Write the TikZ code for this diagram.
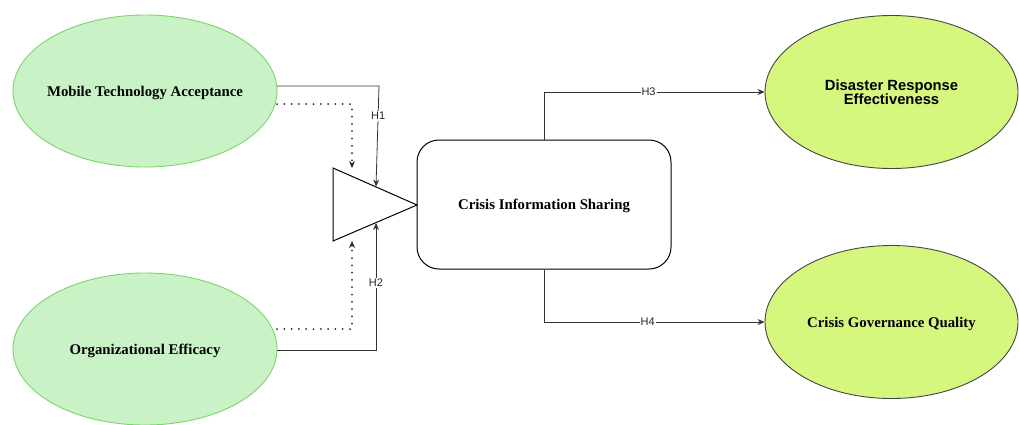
\documentclass[tikz,border=0pt]{standalone}
\usepackage{fontspec}
\setmainfont{Liberation Serif}
\newfontfamily\arialfont{Liberation Sans}
\usetikzlibrary{shapes.geometric,arrows.meta}
\definecolor{leftfill}{HTML}{C9F2C7}
\definecolor{leftline}{HTML}{7ED36A}
\definecolor{rightfill}{HTML}{D6F77D}
\definecolor{rightline}{HTML}{444444}
\tikzset{
  antecedent/.style={ellipse, draw=leftline, fill=leftfill, line width=0.9pt,
    minimum width=264pt, minimum height=152pt, inner xsep=-10pt, inner ysep=0pt,
    text height=10pt, text depth=0pt,
    font=\fontsize{14.8}{15}\selectfont\bfseries},
  outcome/.style={ellipse, draw=rightline, fill=rightfill, line width=0.9pt,
    minimum width=253pt, minimum height=153pt, inner sep=0pt, align=center,
    font=\fontsize{14.8}{14}\selectfont\bfseries},
  hub/.style={rectangle, rounded corners=22pt, draw=black, line width=1pt,
    minimum width=254pt, minimum height=129pt, text height=10pt, text depth=0pt,
    font=\fontsize{14.8}{15}\selectfont\bfseries},
  link/.style={draw=black!80, line width=0.8pt, -{Stealth[length=7pt,width=6pt]}},
  dotlink/.style={draw=black!85, line width=2pt, line cap=round,
    dash pattern=on 0pt off 7.3pt, -{Stealth[length=7pt,width=6pt]}},
  hlabel/.style={fill=white, inner sep=1pt, text=black!85,
    font=\arialfont\fontsize{11}{12}\selectfont},
}
\begin{document}
\begin{tikzpicture}[x=1pt,y=-1pt]
\useasboundingbox (0,0) rectangle (1019,424);

% constructs
\node[antecedent] (mta) at (145,91) {Mobile Technology Acceptance};
\node[antecedent] (oe)  at (145,349) {Organizational Efficacy};
\node[hub] (cis) at (544,204.5) {Crisis Information Sharing};
\node[outcome, font=\arialfont\fontsize{14.8}{14}\selectfont\bfseries] (dre) at (891.5,92) {Disaster Response\\Effectiveness};
\node[outcome, text height=10pt, text depth=0pt] (cgq) at (891.5,322) {Crisis Governance Quality};

% moderation triangle
\coordinate (tA) at (333,168);
\coordinate (tB) at (333,241);
\coordinate (tC) at (417,205);
\draw[line width=1pt] (tA) -- (tC) -- (tB) -- cycle;
\coordinate (h1end) at (376,186.5);
\coordinate (h2end) at (376,223);
\coordinate (d1end) at (352,168);
\coordinate (d2end) at (352,241);

% H1 and H2
\coordinate (mtaout) at (277,86);
\coordinate (oeout) at (277,350);
\draw[link] (mtaout) -- (379,86) -- node[hlabel, pos=0.3] {H1} (h1end);
\draw[link] (oeout) -| node[hlabel, pos=0.764] {H2} (h2end);

% dotted moderation paths
\coordinate (mtadot) at (277,104);
\coordinate (oedot) at (277,329);
\draw[dotlink] (mtadot) -| (d1end);
\draw[dotlink] (oedot) -| (d2end);

% H3 and H4
\draw[link] (cis.north) |- node[hlabel, pos=0.737] {H3} (dre.west);
\draw[link] (cis.south) |- node[hlabel, pos=0.735] {H4} (cgq.west);
\end{tikzpicture}
\end{document}
